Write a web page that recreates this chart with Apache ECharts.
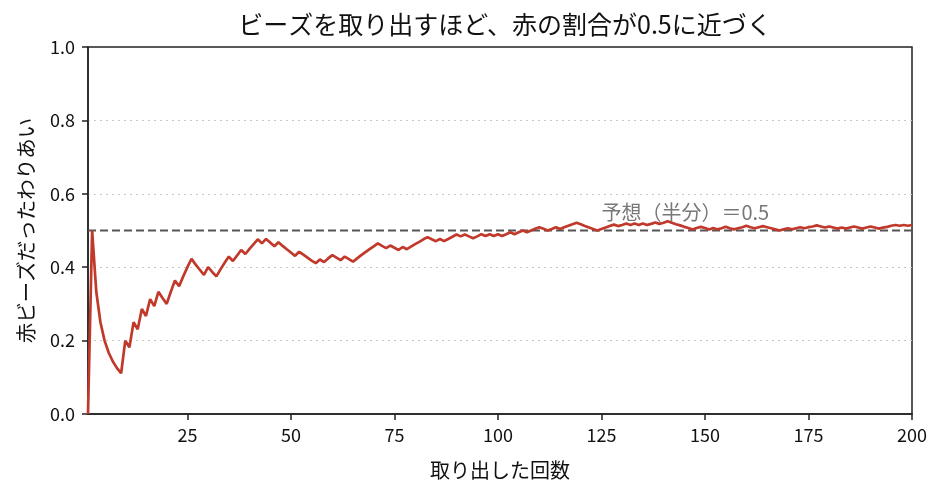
<!DOCTYPE html>
<html>
<head>
<meta charset="utf-8">
<script src="https://cdn.jsdelivr.net/npm/echarts@6/dist/echarts.min.js"></script>
<style>
  html, body { margin: 0; padding: 0; background: #fff; }
  #chart { width: 945px; height: 497px; }
</style>
</head>
<body>
<div id="chart"></div>
<script>
// 取り出した回数 1..200 と、その時点での赤の割合
const draws = [];
for (let n = 1; n <= 200; n++) draws.push(n);

const redRatio = [
  0, 0.5, 0.333, 0.25, 0.2, 0.167, 0.143, 0.125, 0.111, 0.2,
  0.182, 0.25, 0.231, 0.286, 0.267, 0.313, 0.294, 0.333, 0.316, 0.3,
  0.333, 0.364, 0.348, 0.375, 0.4, 0.423, 0.407, 0.393, 0.379, 0.4,
  0.387, 0.375, 0.394, 0.412, 0.429, 0.417, 0.432, 0.447, 0.436, 0.45,
  0.463, 0.476, 0.465, 0.477, 0.467, 0.457, 0.468, 0.458, 0.449, 0.44,
  0.431, 0.442, 0.434, 0.426, 0.418, 0.411, 0.421, 0.414, 0.424, 0.433,
  0.426, 0.419, 0.429, 0.422, 0.415, 0.424, 0.433, 0.441, 0.449, 0.457,
  0.465, 0.458, 0.452, 0.459, 0.453, 0.447, 0.455, 0.449, 0.456, 0.463,
  0.469, 0.476, 0.482, 0.476, 0.471, 0.477, 0.471, 0.477, 0.483, 0.489,
  0.484, 0.489, 0.484, 0.479, 0.484, 0.49, 0.485, 0.49, 0.485, 0.49,
  0.485, 0.49, 0.495, 0.49, 0.495, 0.5, 0.495, 0.5, 0.505, 0.509,
  0.505, 0.5, 0.504, 0.509, 0.504, 0.509, 0.513, 0.517, 0.521, 0.517,
  0.512, 0.508, 0.504, 0.5, 0.504, 0.508, 0.512, 0.516, 0.512, 0.515,
  0.519, 0.515, 0.519, 0.515, 0.519, 0.515, 0.518, 0.522, 0.518, 0.521,
  0.525, 0.521, 0.517, 0.514, 0.51, 0.507, 0.503, 0.507, 0.51, 0.507,
  0.503, 0.507, 0.503, 0.506, 0.51, 0.506, 0.503, 0.506, 0.509, 0.513,
  0.509, 0.506, 0.509, 0.512, 0.509, 0.506, 0.503, 0.5, 0.503, 0.506,
  0.503, 0.506, 0.509, 0.506, 0.509, 0.511, 0.514, 0.511, 0.508, 0.511,
  0.508, 0.505, 0.508, 0.505, 0.508, 0.511, 0.508, 0.505, 0.508, 0.511,
  0.508, 0.505, 0.508, 0.51, 0.513, 0.515, 0.513, 0.515, 0.513, 0.515
];

const xTicks = [25, 50, 75, 100, 125, 150, 175, 200];
const expected = 0.5;
const noteText = '予想（半分）＝0.5';
const notePos = [125, 0.55];

const FONT = '"Noto Sans CJK JP", "Noto Sans", sans-serif';

const chart = echarts.init(document.getElementById('chart'), null, { renderer: 'canvas' });

const option = {
  backgroundColor: '#fff',
  animation: false,
  title: {
    text: 'ビーズを取り出すほど、赤の割合が0.5に近づく',
    left: 500,
    top: 7,
    textAlign: 'center',
    textStyle: { fontFamily: FONT, fontSize: 25, fontWeight: 'normal', color: '#111' }
  },
  grid: {
    left: 88, right: 33, top: 47, bottom: 83,
    show: true, borderColor: '#222', borderWidth: 1.5
  },
  xAxis: {
    type: 'value',
    min: 1,
    max: 200,
    name: '取り出した回数',
    nameLocation: 'middle',
    nameGap: 46,
    nameTextStyle: { fontFamily: FONT, fontSize: 20, color: '#111' },
    axisLine: { show: true, lineStyle: { color: '#222', width: 1.5 } },
    axisTick: { show: true, inside: false, length: 6, lineStyle: { color: '#222', width: 1.5 }, customValues: xTicks },
    axisLabel: { fontFamily: FONT, fontSize: 18, color: '#111', margin: 12, customValues: xTicks },
    splitLine: { show: false }
  },
  yAxis: {
    type: 'value',
    min: 0,
    max: 1,
    interval: 0.2,
    name: '赤ビーズだったわりあい',
    nameLocation: 'middle',
    nameGap: 52,
    nameTextStyle: { fontFamily: FONT, fontSize: 20.5, color: '#111' },
    axisLine: { show: true, lineStyle: { color: '#222', width: 1.5 } },
    axisTick: { show: true, inside: false, length: 6, lineStyle: { color: '#222', width: 1.5 } },
    axisLabel: {
      fontFamily: FONT, fontSize: 18, color: '#111', margin: 13,
      formatter: v => v.toFixed(1)
    },
    splitLine: {
      show: true, showMinLine: false, showMaxLine: false,
      lineStyle: { color: '#c8c8c8', type: [2, 4], width: 1 }
    }
  },
  series: [
    {
      name: '赤の割合',
      type: 'line',
      data: draws.map((n, i) => [n, redRatio[i]]),
      showSymbol: false,
      lineStyle: { color: '#c0392b', width: 2.7 },
      z: 3
    },
    {
      name: '予想',
      type: 'line',
      data: [[1, expected], [200, expected]],
      showSymbol: false,
      lineStyle: { color: '#555', width: 2, type: [8, 4] },
      z: 2
    },
    {
      name: 'note',
      type: 'scatter',
      data: [notePos],
      symbolSize: 0,
      label: {
        show: true,
        position: 'right',
        distance: 0,
        formatter: noteText,
        fontFamily: FONT,
        fontSize: 20,
        color: '#555'
      },
      silent: true,
      z: 4
    }
  ]
};

chart.setOption(option);
</script>
</body>
</html>
